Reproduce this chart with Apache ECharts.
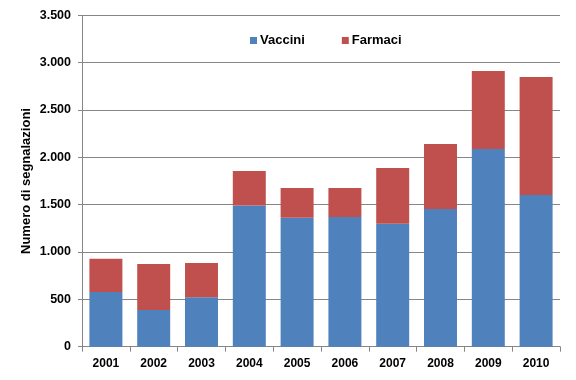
<!DOCTYPE html>
<html>
<head>
<meta charset="utf-8">
<script src="https://cdn.jsdelivr.net/npm/echarts@6/dist/echarts.min.js"></script>
<style>html,body{margin:0;padding:0;background:#fff}#c{width:576px;height:380px}</style>
</head>
<body>
<div id="c"></div>
<script>
const years = ['2001','2002','2003','2004','2005','2006','2007','2008','2009','2010'];
const vaccini = [578, 388, 522, 1490, 1362, 1370, 1299, 1454, 2088, 1602];
const farmaci = [350, 485, 362, 365, 314, 306, 588, 687, 824, 1246];
const yTicks = [0, 500, 1000, 1500, 2000, 2500, 3000, 3500];

const font = 'Liberation Sans, Arial, sans-serif';
const chart = echarts.init(document.getElementById('c'), null, {renderer: 'canvas'});
function fmt(v){ return String(v).replace(/\B(?=(\d{3})+(?!\d))/g, '.'); }
chart.setOption({
  animation: false,
  grid: {left: 82, right: 16, top: 15.3, bottom: 33.3, containLabel: false},
  legend: {
    left: 245, top: 29,
    itemWidth: 7, itemHeight: 7, itemGap: 37,
    icon: 'rect',
    textStyle: {fontFamily: font, fontWeight: 'bold', fontSize: 13, color: '#000', padding: [0,0,0,-2]},
    data: ['Vaccini', 'Farmaci']
  },
  xAxis: {
    type: 'category', data: years,
    axisLine: {lineStyle: {color: '#868686', width: 1}},
    axisTick: {show: true, length: 5, lineStyle: {color: '#868686'}},
    axisLabel: {fontFamily: font, fontWeight: 'bold', fontSize: 12, color: '#000', margin: 11}
  },
  yAxis: {
    type: 'value', min: yTicks[0], max: yTicks[yTicks.length-1], interval: 500,
    name: 'Numero di segnalazioni', nameLocation: 'middle', nameGap: 49, nameRotate: 90,
    nameMoveOverlap: false,
    nameTextStyle: {fontFamily: font, fontWeight: 'bold', fontSize: 13, color: '#000'},
    axisLine: {show: true, lineStyle: {color: '#868686'}},
    axisTick: {show: true, length: 4, lineStyle: {color: '#868686'}},
    splitLine: {lineStyle: {color: '#868686', width: 1}},
    axisLabel: {fontFamily: font, fontWeight: 'bold', fontSize: 12.5, color: '#000', margin: 11, formatter: fmt}
  },
  series: [
    {name: 'Vaccini', type: 'bar', stack: 's', data: vaccini, barWidth: '69%', itemStyle: {color: '#4F81BD'}},
    {name: 'Farmaci', type: 'bar', stack: 's', data: farmaci, barWidth: '69%', itemStyle: {color: '#C0504D'}}
  ]
});
</script>
</body>
</html>
